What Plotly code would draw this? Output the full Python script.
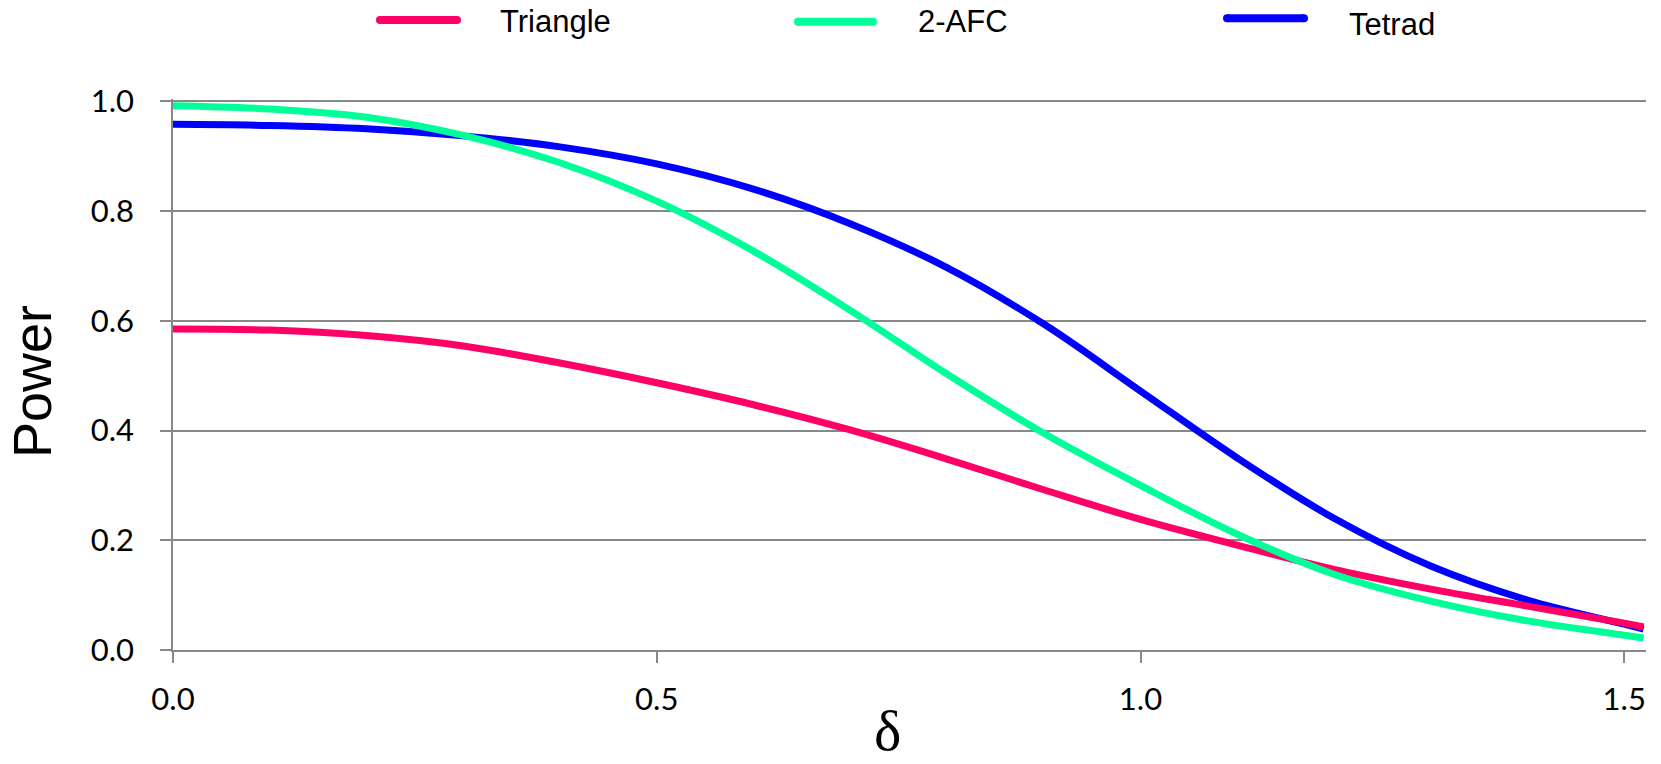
import plotly.graph_objects as go

# Effect size (delta) at which the power of each method is evaluated
delta = [0.0, 0.1, 0.2, 0.3, 0.4, 0.5, 0.6, 0.7, 0.8, 0.9, 1.0,
         1.1, 1.2, 1.3, 1.4, 1.5, 1.52]

# Power curves for the three discrimination methods
triangle = [0.585, 0.583, 0.573, 0.554, 0.523, 0.487, 0.447, 0.401, 0.348,
            0.292, 0.238, 0.191, 0.147, 0.111, 0.080, 0.049, 0.042]
afc2 = [0.992, 0.986, 0.971, 0.938, 0.888, 0.818, 0.727, 0.619, 0.503,
        0.395, 0.300, 0.211, 0.138, 0.089, 0.053, 0.027, 0.022]
tetrad = [0.958, 0.956, 0.950, 0.937, 0.917, 0.886, 0.840, 0.777, 0.697,
          0.594, 0.472, 0.350, 0.240, 0.153, 0.091, 0.047, 0.038]

names = ["Triangle", "2-AFC", "Tetrad"]
colors = {"Triangle": "#FF0066", "2-AFC": "#00FF99", "Tetrad": "#0000FF"}
values = {"Triangle": triangle, "2-AFC": afc2, "Tetrad": tetrad}

y_ticks = [0.0, 0.2, 0.4, 0.6, 0.8, 1.0]
x_ticks = [0.0, 0.5, 1.0, 1.5]

W, H = 1661, 764
ML, MR, MT, MB = 173, 15, 99, 114
PW, PH = W - ML - MR, H - MT - MB

GRID = "#888888"

fig = go.Figure()

# drawing order: Tetrad underneath, then Triangle, then 2-AFC on top
for name in ["Tetrad", "Triangle", "2-AFC"]:
    fig.add_trace(go.Scatter(
        x=delta, y=values[name], name=name, mode="lines",
        line=dict(color=colors[name], width=7, shape="spline"),
        showlegend=False, hoverinfo="x+y+name",
    ))


def px_x(px):
    return (px - ML) / PW


def px_y(py):
    return (H - MB - py) / PH


# hand-built legend across the top
legend_items = [
    ("Triangle", 380, 457, 20.0, 498, 21.5),
    ("2-AFC", 798, 873, 21.7, 916, 21.5),
    ("Tetrad", 1227, 1304, 18.3, 1347, 24.2),
]
shapes = []
annotations = []
for name, x0, x1, ly, tx, ty in legend_items:
    shapes.append(dict(type="line", xref="paper", yref="paper",
                       x0=px_x(x0), x1=px_x(x1), y0=px_y(ly), y1=px_y(ly),
                       line=dict(color=colors[name], width=8)))
    for cx in (x0, x1):
        shapes.append(dict(type="circle", xref="paper", yref="paper",
                           x0=px_x(cx - 4), x1=px_x(cx + 4),
                           y0=px_y(ly + 4), y1=px_y(ly - 4),
                           fillcolor=colors[name], line=dict(width=0)))
    annotations.append(dict(text=name, xref="paper", yref="paper",
                            x=px_x(tx), y=px_y(ty), xanchor="left",
                            yanchor="middle", showarrow=False,
                            font=dict(family="Liberation Sans", size=31,
                                      color="#000000")))

# axis titles
annotations.append(dict(text="Power", xref="paper", yref="paper",
                        x=px_x(32), y=px_y(382), textangle=-90,
                        xanchor="center", yanchor="middle", showarrow=False,
                        font=dict(family="Liberation Sans", size=54,
                                  color="#000000")))
annotations.append(dict(text="δ", xref="paper", yref="paper",
                        x=px_x(887), y=px_y(764), borderpad=0,
                        xanchor="center", yanchor="bottom", showarrow=False,
                        font=dict(family="Liberation Serif", size=58,
                                  color="#000000")))

fig.update_layout(
    width=W, height=H,
    margin=dict(l=ML, r=MR, t=MT, b=MB, pad=0),
    paper_bgcolor="white", plot_bgcolor="white",
    shapes=shapes, annotations=annotations,
    showlegend=False,
)

fig.update_xaxes(
    range=[0, PW / 967.5], tickvals=x_ticks,
    ticktext=[f"{v:.1f}" for v in x_ticks],
    showgrid=False, zeroline=False,
    showline=True, linecolor=GRID, linewidth=1.5,
    ticks="outside", ticklen=11, tickwidth=1.5, tickcolor=GRID,
    ticklabelstandoff=10,
    tickfont=dict(family="Lato", size=31, color="#000000"),
)
fig.update_yaxes(
    range=[0, PH / 548.7], tickvals=y_ticks,
    ticktext=[f"{v:.1f}" for v in y_ticks],
    showgrid=True, gridcolor=GRID, gridwidth=1.5, zeroline=False,
    showline=True, linecolor=GRID, linewidth=1.5,
    ticks="outside", ticklen=11, tickwidth=1.5, tickcolor=GRID,
    ticklabelstandoff=20,
    tickfont=dict(family="Lato", size=31, color="#000000"),
)

fig.write_html("out.html")
